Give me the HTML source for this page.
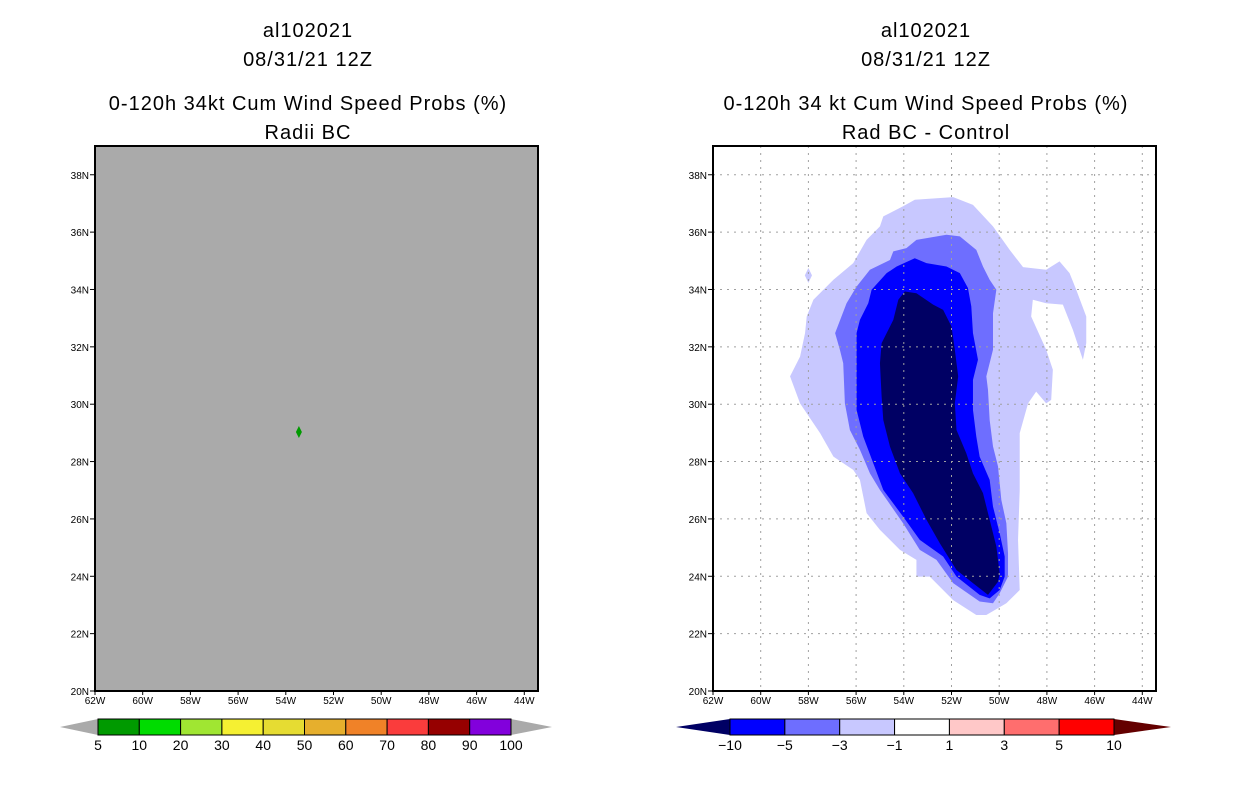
<!DOCTYPE html>
<html><head><meta charset="utf-8"><style>
body{margin:0;background:#fff;}
svg{display:block;font-family:"Liberation Sans",sans-serif;}
</style></head><body>
<svg id="fig" width="1236" height="800">
<g font-size="20" text-anchor="middle" fill="#000" letter-spacing="1">
<text x="308" y="37">al102021</text><text x="308" y="66">08/31/21 12Z</text>
<text x="308" y="110">0-120h 34kt Cum Wind Speed Probs (%)</text><text x="308" y="139">Radii BC</text></g>
<g font-size="20" text-anchor="middle" fill="#000" letter-spacing="1">
<text x="926" y="37">al102021</text><text x="926" y="66">08/31/21 12Z</text>
<text x="926" y="110">0-120h 34 kt Cum Wind Speed Probs (%)</text><text x="926" y="139">Rad BC - Control</text></g>
<g id="left"></g>
<g id="right"></g>
<g id="cbl"></g>
<g id="cbr"></g>
</svg>
<script>
const lonTicks=[-62,-60,-58,-56,-54,-52,-50,-48,-46,-44];
const latTicks=[20,22,24,26,28,30,32,34,36,38];
const pointLon=[-53.45], pointLat=[29.03];
const lightLon=[-53.54,-51.93,-51.10,-50.26,-49.56,-49.00,-48.03,-47.47,-47.05,-46.77,-46.35,-46.35,-46.49,-46.91,-47.33,-48.03,-48.59,-48.66,-48.03,-47.75,-47.82,-48.03,-48.45,-48.79,-49.14,-49.14,-49.21,-49.14,-49.70,-50.54,-50.96,-51.93,-52.91,-53.47,-53.47,-54.16,-55.00,-55.56,-55.84,-56.12,-56.95,-57.51,-58.35,-58.77,-58.35,-58.14,-58.07,-57.79,-56.95,-56.12,-55.56,-55.00,-54.86,-54.03];
const lightLat=[37.13,37.22,36.95,36.20,35.38,34.78,34.69,34.98,34.57,33.99,33.06,32.13,31.55,32.59,33.47,33.52,33.64,33.06,31.90,31.20,30.15,30.03,30.44,30.03,28.99,27.01,25.27,23.52,23.06,22.65,22.65,23.17,23.99,23.99,24.57,24.92,25.62,26.20,27.36,27.71,28.17,28.99,30.03,30.97,31.66,32.48,33.06,33.64,34.34,34.92,35.73,36.20,36.55,36.90];
const dotLon=[-58.15,-58,-57.85,-58], dotLat=[34.49,34.75,34.49,34.23];
const medLon=[-53.47,-52.21,-51.65,-50.96,-50.68,-50.40,-50.12,-50.26,-50.26,-50.54,-50.47,-50.40,-50.26,-50.05,-49.91,-49.70,-49.63,-49.63,-49.98,-50.26,-50.82,-51.93,-52.63,-53.33,-54.03,-55.00,-55.42,-55.84,-56.26,-56.47,-56.54,-56.68,-56.88,-56.40,-55.98,-55.42,-54.58,-54.44,-53.89];
const medLat=[35.73,35.91,35.85,35.38,34.80,34.34,33.99,33.17,31.90,30.97,30.50,29.45,28.53,27.83,26.66,25.85,24.80,23.99,23.41,23.06,23.12,23.76,24.57,24.92,25.85,27.01,27.59,28.41,29.10,30.03,31.43,31.90,32.48,33.52,34.10,34.69,35.03,35.33,35.44];
const blueLon=[-53.54,-53.05,-52.21,-51.65,-51.31,-51.17,-51.10,-50.89,-51.10,-51.10,-50.96,-50.82,-50.40,-50.26,-49.98,-49.77,-49.77,-49.98,-50.40,-50.82,-51.79,-52.35,-53.33,-54.03,-54.86,-55.28,-55.70,-55.98,-55.98,-55.98,-55.84,-55.49,-55.35,-54.72,-54.30];
const blueLat=[35.09,34.92,34.80,34.57,34.05,33.41,32.48,31.55,30.85,29.80,28.87,28.17,27.36,26.43,25.50,24.69,23.99,23.52,23.23,23.35,23.99,24.69,25.27,26.08,27.01,27.94,28.87,29.80,30.85,32.48,32.94,33.52,33.99,34.57,34.80];
const navyLon=[-53.96,-53.47,-52.77,-52.35,-52.00,-51.86,-51.72,-51.86,-51.79,-51.38,-51.10,-50.68,-50.40,-50.12,-49.98,-50.05,-50.47,-51.10,-51.79,-52.49,-53.05,-53.61,-54.16,-54.58,-54.86,-54.93,-55.00,-54.93,-54.44,-54.23];
const navyLat=[33.93,33.87,33.47,33.29,32.71,31.90,30.97,30.03,29.10,28.29,27.59,26.90,25.97,25.04,24.10,23.81,23.35,23.76,24.22,25.15,25.97,26.90,27.59,28.52,29.45,30.27,31.43,32.13,32.94,33.64];
const leftLevels=["5","10","20","30","40","50","60","70","80","90","100"];
const leftColors=["#009a00","#00dc00","#a0e632","#f5f032","#e6dc32","#e6af2d","#f08228","#fa3c3c","#960000","#8200dc"];
const rightLevels=["-10","-5","-3","-1","1","3","5","10"];
const rightColors=["#0000ff","#6e6eff","#c8c8ff","#ffffff","#ffc8c8","#ff6e6e","#ff0000"];

const NS="http://www.w3.org/2000/svg";
function mk(p,t,a){const e=document.createElementNS(NS,t);for(const k in a)e.setAttribute(k,a[k]);p.appendChild(e);return e;}
const yTop=146,yBot=691,W=443;
function xs(x0){return lon=>x0+(lon+62)*23.85;}
function ys(lat){return yBot-(lat-20)*28.68;}
function poly(g,X,lons,lats,fill,name){
  const p=mk(g,'polygon',{points:lons.map((l,i)=>X(l)+','+ys(lats[i])).join(' '),fill:fill});
  
  
}
function axes(g,x0,grid){
  const X=xs(x0);
  if(grid){
    lonTicks.forEach(l=>{const ln=mk(g,'line',{x1:X(l),x2:X(l),y1:yTop,y2:yBot,stroke:'#a0a0a0','stroke-dasharray':'2,5'});
      
      });
    latTicks.forEach(l=>{const ln=mk(g,'line',{x1:x0,x2:x0+W,y1:ys(l),y2:ys(l),stroke:'#a0a0a0','stroke-dasharray':'2,5'});
      
      });
  }
  const r=mk(g,'rect',{x:x0,y:yTop,width:W,height:yBot-yTop,fill:'none',stroke:'#000','stroke-width':2});
  
  
  lonTicks.forEach(l=>{mk(g,'line',{x1:X(l),x2:X(l),y1:yBot,y2:yBot+4,stroke:'#000'});
    const t=mk(g,'text',{x:X(l),y:yBot+13,'font-size':10,'text-anchor':'middle'});t.textContent=(-l)+'W';
    
    });
  latTicks.forEach(l=>{mk(g,'line',{x1:x0-5,x2:x0,y1:ys(l),y2:ys(l),stroke:'#000'});
    const t=mk(g,'text',{x:x0-6,y:ys(l)+4,'font-size':10,'text-anchor':'end'});t.textContent=l+'N';
    
    });
}
const L=document.getElementById('left');
const bg=mk(L,'rect',{x:95,y:yTop,width:W,height:yBot-yTop,fill:'#aaaaaa'});


const XL=xs(95);
pointLon.forEach((l,i)=>{const d=mk(L,'polygon',{points:`${XL(l)},${ys(pointLat[i])-6} ${XL(l)+3},${ys(pointLat[i])} ${XL(l)},${ys(pointLat[i])+6} ${XL(l)-3},${ys(pointLat[i])}`,fill:'#009a00'});
  
  });
axes(L,95,false);
const R=document.getElementById('right');const XR=xs(713);
poly(R,XR,lightLon,lightLat,'#c8c8ff','contour-minus1');
poly(R,XR,dotLon,dotLat,'#c8c8ff','contour-minus1-spot');
poly(R,XR,medLon,medLat,'#6e6eff','contour-minus3');
poly(R,XR,blueLon,blueLat,'#0000ff','contour-minus5');
poly(R,XR,navyLon,navyLat,'#000064','contour-minus10');
axes(R,713,true);
function cbar(g,x0,x1,l0,r1,cols,labs,lc,rc){
  const y0=719,y1=735,w=(x1-x0)/cols.length;
  const a=mk(g,'polygon',{points:`${l0},${(y0+y1)/2} ${x0},${y0} ${x0},${y1}`,fill:lc});
  
  
  const b=mk(g,'polygon',{points:`${r1},${(y0+y1)/2} ${x1},${y0} ${x1},${y1}`,fill:rc});
  
  
  cols.forEach((c,i)=>{const r=mk(g,'rect',{x:x0+i*w,y:y0,width:w,height:y1-y0,fill:c,stroke:'#000'});
    
    });
  labs.forEach((s,i)=>{const t=mk(g,'text',{x:x0+i*w,y:750,'font-size':14,'text-anchor':'middle'});t.textContent=s.replace('-','\u2212');
    
    });
}
cbar(document.getElementById('cbl'),98,511,60,552,leftColors,leftLevels,'#aaaaaa','#aaaaaa');
cbar(document.getElementById('cbr'),730,1114,676,1171,rightColors,rightLevels,'#000064','#640000');
</script>
</body></html>
